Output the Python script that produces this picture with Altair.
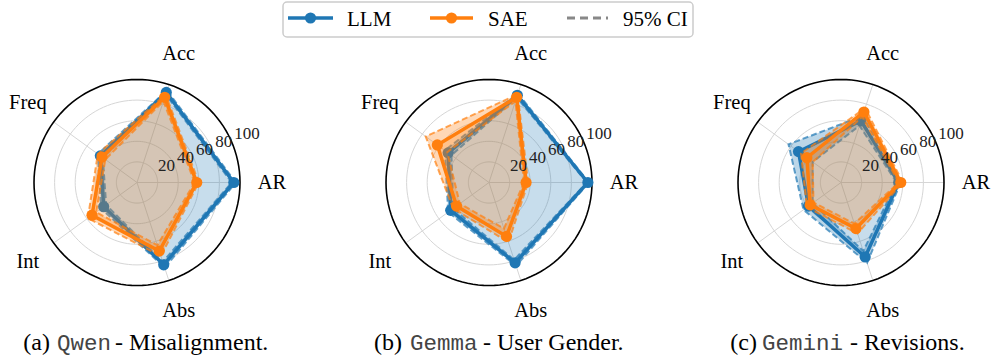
import numpy as np
import pandas as pd
import altair as alt

# ---- data -------------------------------------------------------------
AXES = ["AR", "Acc", "Freq", "Int", "Abs"]
TICKS = [20, 40, 60, 80, 100]
RINGS = [20, 40, 60, 80]

# (a) Qwen - Misalignment
qwen_llm = [94, 92, 44, 40, 84]
qwen_llm_lo = [92, 90, 41, 37, 81]
qwen_llm_hi = [96, 94, 47, 43, 87]
qwen_sae = [58, 87, 42, 54, 70]
qwen_sae_lo = [56, 83, 38, 49, 64]
qwen_sae_hi = [60, 90, 47, 59, 75]

# (b) Gemma - User Gender
gemma_llm = [96, 89, 49, 46, 82]
gemma_llm_lo = [95, 87, 45, 43, 79]
gemma_llm_hi = [97, 91, 53, 49, 85]
gemma_sae = [36, 87, 62, 39, 55]
gemma_sae_lo = [34, 83, 50, 35, 47]
gemma_sae_hi = [38, 90, 76, 43, 61]

# (c) Gemini - Revisions
gemini_llm = [56, 63, 51, 39, 76]
gemini_llm_lo = [54, 58, 34, 34, 70]
gemini_llm_hi = [58, 68, 63, 45, 82]
gemini_sae = [58, 72, 41, 37, 47]
gemini_sae_lo = [56, 67, 34, 33, 42]
gemini_sae_hi = [60, 76, 48, 41, 52]

PANELS = [
    ("(a)", "Qwen", "- Misalignment.",
     {"LLM": (qwen_llm, qwen_llm_lo, qwen_llm_hi),
      "SAE": (qwen_sae, qwen_sae_lo, qwen_sae_hi)}),
    ("(b)", "Gemma", "- User Gender.",
     {"LLM": (gemma_llm, gemma_llm_lo, gemma_llm_hi),
      "SAE": (gemma_sae, gemma_sae_lo, gemma_sae_hi)}),
    ("(c)", "Gemini", "- Revisions.",
     {"LLM": (gemini_llm, gemini_llm_lo, gemini_llm_hi),
      "SAE": (gemini_sae, gemini_sae_lo, gemini_sae_hi)}),
]

# ---- style ------------------------------------------------------------
COLORS = {"LLM": "#1f77b4", "SAE": "#ff7f0e"}
SERIF = "Liberation Serif"
MONO = "Liberation Mono"
W, H = 274, 356
PX_PER_UNIT = 1.03
CY = 182.5
XS = alt.Scale(domain=[-W / 2 / PX_PER_UNIT, W / 2 / PX_PER_UNIT], nice=False, zero=False)
YS = alt.Scale(domain=[-(H - CY) / PX_PER_UNIT, CY / PX_PER_UNIT], nice=False, zero=False)
N = len(AXES)


def polar(chart, r="r", idx="i"):
    """Convert (radius, spoke index) to cartesian coordinates."""
    return chart.transform_calculate(
        th=f"datum.{idx} * 2 * PI / {N}"
    ).transform_calculate(
        px=f"datum.{r} * cos(datum.th)", py=f"datum.{r} * sin(datum.th)"
    )


def xy(**kw):
    return dict(x=alt.X("px:Q", scale=XS, axis=None),
                y=alt.Y("py:Q", scale=YS, axis=None), **kw)


def grid_layers():
    ang = np.arange(0, 360, 3)
    ring_df = pd.DataFrame([(r, a) for r in RINGS + [100] for a in ang], columns=["r", "a"])
    base = alt.Chart(ring_df).transform_calculate(
        px="datum.r * cos(datum.a * PI / 180)", py="datum.r * sin(datum.a * PI / 180)"
    )
    rings = base.transform_filter("datum.r < 100").mark_line(
        interpolate="linear-closed", stroke="#d6d6d6", strokeWidth=1
    ).encode(**xy(order="a:Q", detail="r:N"))
    outer = base.transform_filter("datum.r == 100").mark_line(
        interpolate="linear-closed", stroke="black", strokeWidth=1.6
    ).encode(**xy(order="a:Q"))
    spoke_df = pd.DataFrame({"i": range(N), "r": [100] * N})
    spokes = polar(alt.Chart(spoke_df)).mark_rule(stroke="#d6d6d6", strokeWidth=1).encode(
        x=alt.X("px:Q", scale=XS, axis=None), y=alt.Y("py:Q", scale=YS, axis=None),
        x2=alt.datum(0), y2=alt.datum(0),
    )
    return [rings, spokes, outer]


def series_layers(name, mean, lo, hi):
    c = COLORS[name]
    mean_df = pd.DataFrame({"i": range(N), "r": mean, "lo": lo, "hi": hi})
    # closed band path: upper ring forward, then lower ring backward
    band_idx = list(range(N)) + [0, 0] + list(range(N - 1, 0, -1)) + [0]
    band_r = [hi[i] for i in list(range(N)) + [0]] + [lo[i] for i in [0] + list(range(N - 1, 0, -1)) + [0]]
    band_df = pd.DataFrame({"k": range(len(band_idx)), "i": band_idx, "r": band_r})

    band = polar(alt.Chart(band_df)).mark_line(
        interpolate="linear", fill=c, fillOpacity=0.3, strokeWidth=0, strokeOpacity=0
    ).encode(**xy(order="k:Q"))
    area = polar(alt.Chart(mean_df)).mark_line(
        interpolate="linear-closed", fill=c, fillOpacity=0.25, strokeWidth=0, strokeOpacity=0
    ).encode(**xy(order="i:Q"))
    dashes = [
        polar(alt.Chart(mean_df), r=col).mark_line(
            interpolate="linear-closed", stroke=c, strokeWidth=2, strokeDash=[6, 3], opacity=0.7
        ).encode(**xy(order="i:Q"))
        for col in ("lo", "hi")
    ]
    line = polar(alt.Chart(mean_df)).mark_line(
        interpolate="linear-closed", stroke=c, strokeWidth=3.5
    ).encode(**xy(order="i:Q"))
    pts = polar(alt.Chart(mean_df)).mark_point(
        filled=True, size=125, color=c, opacity=1
    ).encode(**xy())
    return [band, area] + dashes + [line, pts]


def label_layers(prefix, model, suffix, pos):
    ax_df = pd.DataFrame({"i": range(N), "name": AXES, "r": [131] * N})
    axis_labels = polar(alt.Chart(ax_df)).mark_text(
        font=SERIF, fontSize=20.5, align="center", baseline="middle", color="black"
    ).encode(**xy(text="name:N"))
    tick_df = pd.DataFrame({"t": TICKS})
    tick_labels = alt.Chart(tick_df).transform_calculate(
        px="datum.t * cos(PI / 8)", py="datum.t * sin(PI / 8)"
    ).mark_text(font=SERIF, fontSize=17, align="left", baseline="bottom", dx=2, color="#222222").encode(
        **xy(text="t:Q")
    )
    one = pd.DataFrame({"_": [0]})
    xp, xm, xs_ = pos
    ty = 349.5
    t1 = alt.Chart(one).mark_text(font=SERIF, fontSize=24, align="right", baseline="alphabetic",
                                  text=prefix).encode(x=alt.value(xp), y=alt.value(ty))
    t2 = alt.Chart(one).mark_text(font=MONO, fontSize=22.5, align="left", baseline="alphabetic",
                                  text=model, color="#444444").encode(x=alt.value(xm), y=alt.value(ty))
    t3 = alt.Chart(one).mark_text(font=SERIF, fontSize=24, align="left", baseline="alphabetic",
                                  text=suffix).encode(x=alt.value(xs_), y=alt.value(ty))
    return [tick_labels, axis_labels, t1, t2, t3]


def legend_layers(x0):
    one = pd.DataFrame({"_": [0]})
    base = alt.Chart(one)
    ly = 18
    layers = [
        base.mark_rect(fill="white", stroke="#cccccc", strokeWidth=1.5, cornerRadius=4).encode(
            x=alt.value(283 - x0), x2=alt.value(693 - x0), y=alt.value(2), y2=alt.value(37)
        )
    ]
    items = [("LLM", COLORS["LLM"], 288, 333, 347, False),
             ("SAE", COLORS["SAE"], 430, 473, 488, False),
             ("95% CI", "#888888", 567, 608, 623, True)]
    for text, c, a, b, tx, dashed in items:
        if dashed:
            layers.append(base.mark_rule(stroke=c, strokeWidth=3, strokeDash=[8, 5]).encode(
                x=alt.value(a - x0), x2=alt.value(b - x0), y=alt.value(ly)))
        else:
            layers.append(base.mark_rule(stroke=c, strokeWidth=3.5).encode(
                x=alt.value(a - x0), x2=alt.value(b - x0), y=alt.value(ly)))
            layers.append(base.mark_point(filled=True, size=125, color=c, opacity=1).encode(
                x=alt.value((a + b) / 2 - x0), y=alt.value(ly)))
        layers.append(base.mark_text(font=SERIF, fontSize=21, align="left", baseline="alphabetic",
                                     text=text).encode(x=alt.value(tx - x0), y=alt.value(26)))
    return layers


TITLE_POS = [(50, 57, 115), (50, 58, 131), (53, 58, 146)]
SPACING = 78

panels = []
for n, (prefix, model, suffix, series) in enumerate(PANELS):
    layers = grid_layers()
    for name in ("LLM", "SAE"):
        layers += series_layers(name, *series[name])
    layers += label_layers(prefix, model, suffix, TITLE_POS[n])
    if n == 1:
        layers += legend_layers(W + SPACING)
    panels.append(alt.layer(*layers).properties(width=W, height=H))

chart = alt.hconcat(*panels, spacing=SPACING, bounds="flush").properties(
    padding=0
).configure_view(strokeWidth=0)

chart.save("out.html", embed_options={"renderer": "svg", "actions": False})
